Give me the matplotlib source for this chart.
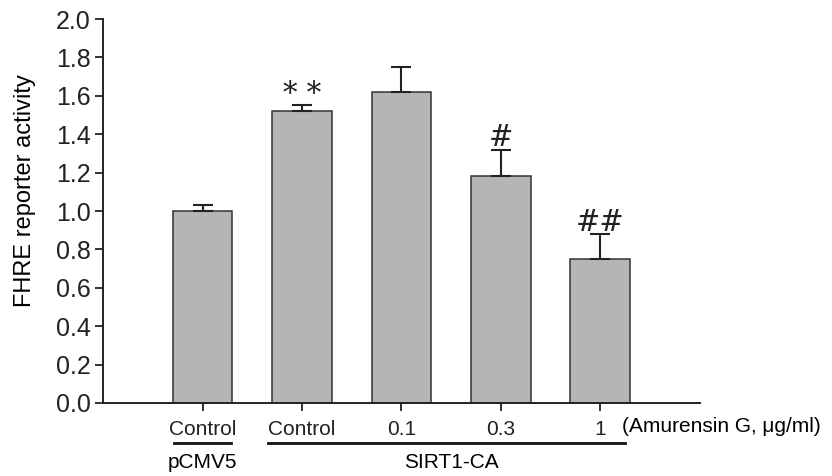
import matplotlib
matplotlib.use("Agg")
import matplotlib.pyplot as plt

plt.rcParams["font.family"] = ["Liberation Sans", "DejaVu Sans"]

# Data
tick_labels = ["Control", "Control", "0.1", "0.3", "1"]
activity = [1.00, 1.52, 1.62, 1.18, 0.75]
errors = [0.03, 0.03, 0.13, 0.14, 0.13]
marks = ["", "* *", "", "#", "##"]

positions = list(range(len(activity)))

fig = plt.figure(figsize=(8.32, 4.76), dpi=100)
ax = fig.add_axes([0.124, 0.1534, 0.717, 0.8066])

ax.bar(positions, activity, width=0.6, color="#b5b5b5", edgecolor="#333333",
       linewidth=1.1, zorder=2)
ax.errorbar(positions, activity, yerr=[[0] * len(errors), errors], fmt="none",
            ecolor="#222222", elinewidth=1.5, capsize=7, capthick=1.5, zorder=3)

for x, y, e, m in zip(positions, activity, errors, marks):
    if m:
        ax.text(x, y + e - 0.015, m, ha="center", va="bottom", fontsize=21,
                family="DejaVu Serif", color="#222222")

ax.set_xlim(-1, 5)
ax.set_ylim(0, 2.0)
ax.set_yticks([i / 10 for i in range(0, 21, 2)])
ax.set_yticklabels([f"{i / 10:.1f}" for i in range(0, 21, 2)], fontsize=18)
ax.set_xticks(positions)
ax.set_xticklabels(tick_labels, fontsize=15)
ax.tick_params(axis="both", direction="out", length=6, width=1.3, colors="#222222")
ax.tick_params(axis="x", pad=6)
ax.tick_params(axis="y", pad=3)
ax.set_ylabel("FHRE reporter activity", fontsize=17)
ax.yaxis.set_label_coords(-0.113, 0.552)

for side in ["top", "right"]:
    ax.spines[side].set_visible(False)
for side in ["left", "bottom"]:
    ax.spines[side].set_linewidth(1.4)
    ax.spines[side].set_color("#222222")

ax.text(4.22, -0.125, "(Amurensin G, \u03bcg/ml)", ha="left", va="center",
        fontsize=15, clip_on=False)

# group underlines and names below tick labels
trans = ax.get_xaxis_transform()
ax.plot([-0.29, 0.29], [-0.104, -0.104], color="#111111", lw=2.0,
        transform=trans, clip_on=False)
ax.plot([0.66, 4.25], [-0.104, -0.104], color="#111111", lw=2.0,
        transform=trans, clip_on=False)
ax.text(0, -0.154, "pCMV5", ha="center", va="center", fontsize=15,
        transform=trans)
ax.text(2.5, -0.154, "SIRT1-CA", ha="center", va="center", fontsize=15,
        transform=trans)

fig.savefig("out.png", dpi=100)
